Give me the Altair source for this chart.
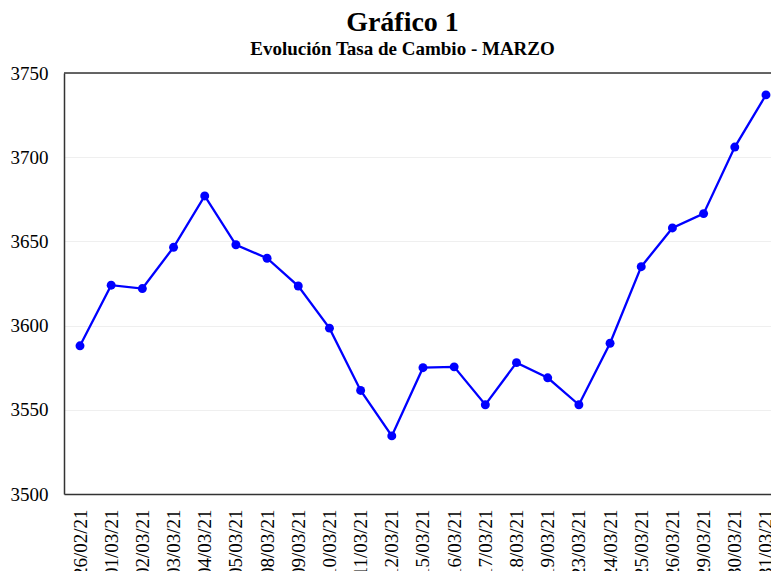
import altair as alt
import pandas as pd

fechas = ["26/02/21", "01/03/21", "02/03/21", "03/03/21", "04/03/21", "05/03/21",
          "08/03/21", "09/03/21", "10/03/21", "11/03/21", "12/03/21", "15/03/21",
          "16/03/21", "17/03/21", "18/03/21", "19/03/21", "23/03/21", "24/03/21",
          "25/03/21", "26/03/21", "29/03/21", "30/03/21", "31/03/21"]
tasa = [3588, 3624, 3622, 3646.5, 3677, 3648, 3640, 3623.5, 3598.5, 3561.5,
        3534.5, 3575, 3575.5, 3553, 3578, 3569, 3553, 3589.5, 3635, 3658,
        3666.5, 3706, 3737]
y_ticks = [3500, 3550, 3600, 3650, 3700, 3750]

df = pd.DataFrame({"idx": list(range(len(fechas))), "fecha": fechas, "tasa": tasa})

FONT = "Liberation Serif"
W = 707
H = 421
step = 31.18
x_min = -16 / step
x_max = x_min + W / step
label_expr = "[" + ",".join("'%s'" % f for f in fechas) + "][datum.value]"

base = alt.Chart(df)

line = base.mark_line(
    color="#0000ff", strokeWidth=2.3,
    point=alt.OverlayMarkDef(color="#0000ff", filled=True, size=80, opacity=1)
).encode(
    x=alt.X("idx:Q", title=None,
            scale=alt.Scale(domain=[x_min, x_max], nice=False, zero=False),
            axis=alt.Axis(values=list(range(len(fechas))), labelExpr=label_expr,
                          labelAngle=-90, labelFont=FONT, labelFontSize=19,
                          labelColor="black", ticks=False, labelPadding=15,
                          labelOverlap=False, labelFlush=False, labelBound=False,
                          domainColor="#333", domainWidth=1.5, grid=False)),
    y=alt.Y("tasa:Q", title=None,
            scale=alt.Scale(domain=[3500, 3750], nice=False, zero=False),
            axis=alt.Axis(values=y_ticks, format="d", labelFont=FONT, labelFontSize=19,
                          labelColor="black", ticks=False, labelPadding=16,
                          domainColor="#333", domainWidth=1.5,
                          grid=True, gridColor="#efefef", gridWidth=1))
)

# top frame line (the right side of the frame lies outside the picture)
top_line = alt.Chart(pd.DataFrame({"k": [0]})).mark_rule(
    color="#333", strokeWidth=1.5
).encode(x=alt.value(0), x2=alt.value(W + 20), y=alt.value(0))

chart = alt.layer(line, top_line).properties(
    width=W,
    height=H,
    autosize=alt.AutoSizeParams(type="none"),
    padding={"left": 56, "top": 65, "right": 0, "bottom": 77},
    title=alt.TitleParams(
        text="Gráfico 1",
        subtitle="Evolución Tasa de Cambio - MARZO",
        font=FONT, fontSize=28, fontWeight="bold", color="black",
        subtitleFont=FONT, subtitleFontSize=19, subtitleFontWeight="bold",
        subtitleColor="black", subtitlePadding=3,
        anchor="middle", frame="group", dx=-15, offset=5
    )
).configure_view(
    strokeWidth=0
).configure_axis(
    labelFont=FONT
)

chart.save("out.html", embed_options={"renderer": "svg", "actions": False})
